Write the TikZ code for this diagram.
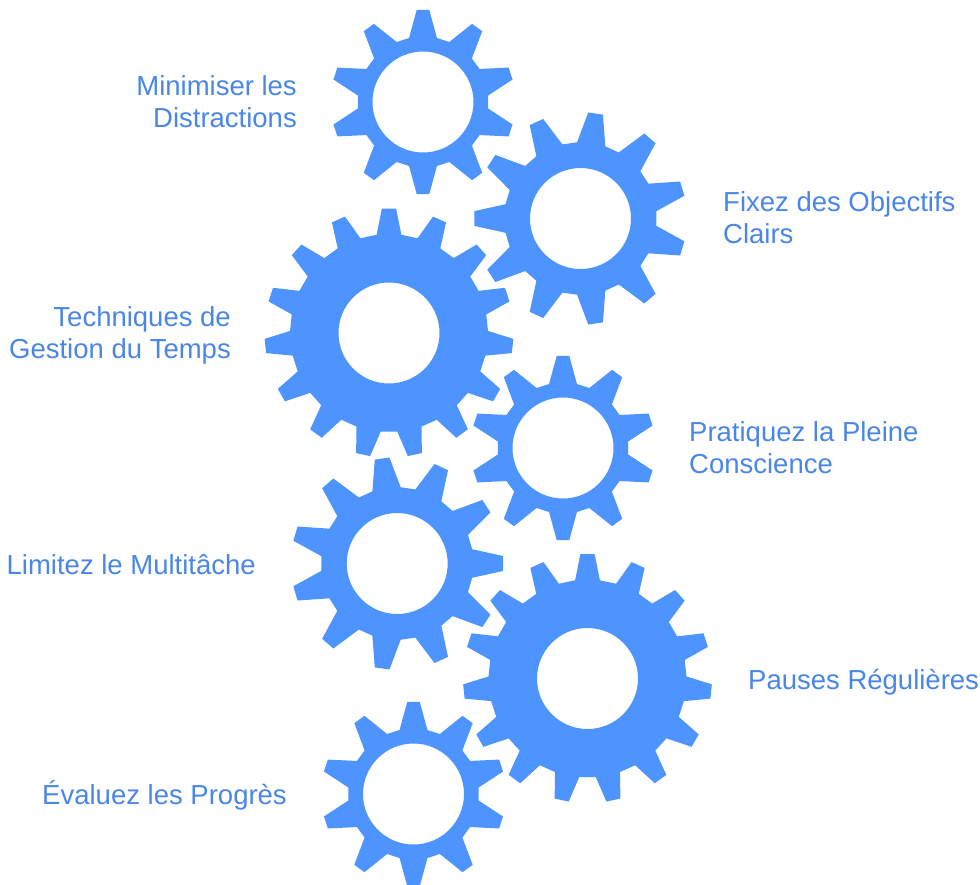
\documentclass[tikz,border=0pt]{standalone}
\usepackage{fontspec}
\setmainfont{Liberation Sans}
\definecolor{gearblue}{HTML}{4D94FF}
\definecolor{labelblue}{HTML}{4A86E8}
\tikzset{
  gearfill/.style={fill=gearblue,even odd rule},
  glabel/.style={text=labelblue,inner sep=0pt,font=\fontsize{27.5}{32}\selectfont},
  gleft/.style={glabel,anchor=west,align=left},
  gright/.style={glabel,anchor=east,align=right}
}
% name, x, y, teeth, phase, tip radius, root radius, half angle tip, half angle root
\newcommand\gearat[9]{%
  \coordinate (#1) at (#2,#3);
  \gdef\gearpathstr{}%
  \pgfmathtruncatemacro\lastn{#4-1}%
  \foreach \k in {0,...,\lastn}{%
    \pgfmathsetmacro\aa{#5+\k*360/#4}%
    \pgfmathsetmacro\ra{\aa-#9}\pgfmathsetmacro\ta{\aa-#8}%
    \pgfmathsetmacro\tb{\aa+#8}\pgfmathsetmacro\rb{\aa+#9}%
    \xdef\gearpathstr{\gearpathstr (\ra:#7) -- (\ta:#6) -- (\tb:#6) -- (\rb:#7) -- }%
  }%
  \begin{scope}[shift={(#1)}]
    \fill[gearfill] \gearpathstr cycle (0,0) circle[radius=50.5];
  \end{scope}
}
\begin{document}
\begin{tikzpicture}[x=1pt,y=-1pt]
\useasboundingbox (0,0) rectangle (980,884);
\clip (0,0) rectangle (980,884);
\gearat{g1}{423}{102}{10}{90}{92.3}{65.5}{3.9}{12.3}
\gearat{g2}{580.5}{218.5}{11}{180}{106.3}{76.3}{4}{10.8}
\gearat{g3}{389}{333}{15}{270}{124.5}{99}{3.3}{7.2}
\gearat{g4}{563}{448}{10}{90}{92.3}{65.5}{3.9}{12.3}
\gearat{g5}{397.2}{563.5}{11}{0}{106.3}{76.3}{4}{10.8}
\gearat{g6}{587.5}{678.5}{15}{270}{124.5}{99}{3.3}{7.2}
\gearat{g7}{413.5}{794}{10}{90}{92.3}{65.5}{3.9}{12.3}
\node[gright] (l1) at (297,105.5) {\strut Minimiser les\\\strut Distractions};
\node[gleft] (l2) at (723,221.5) {\strut Fixez des Objectifs\\\strut Clairs};
\node[gright] (l3) at (231,336.5) {\strut Techniques de\\\strut Gestion du Temps};
\node[gleft] (l4) at (689,451.5) {\strut Pratiquez la Pleine\\\strut Conscience};
\node[gright] (l5) at (256,568) {\strut Limitez le Multitâche};
\node[gleft] (l6) at (748,683) {\strut Pauses Régulières};
\node[gright] (l7) at (287,797) {\strut Évaluez les Progrès};
\end{tikzpicture}
\end{document}
